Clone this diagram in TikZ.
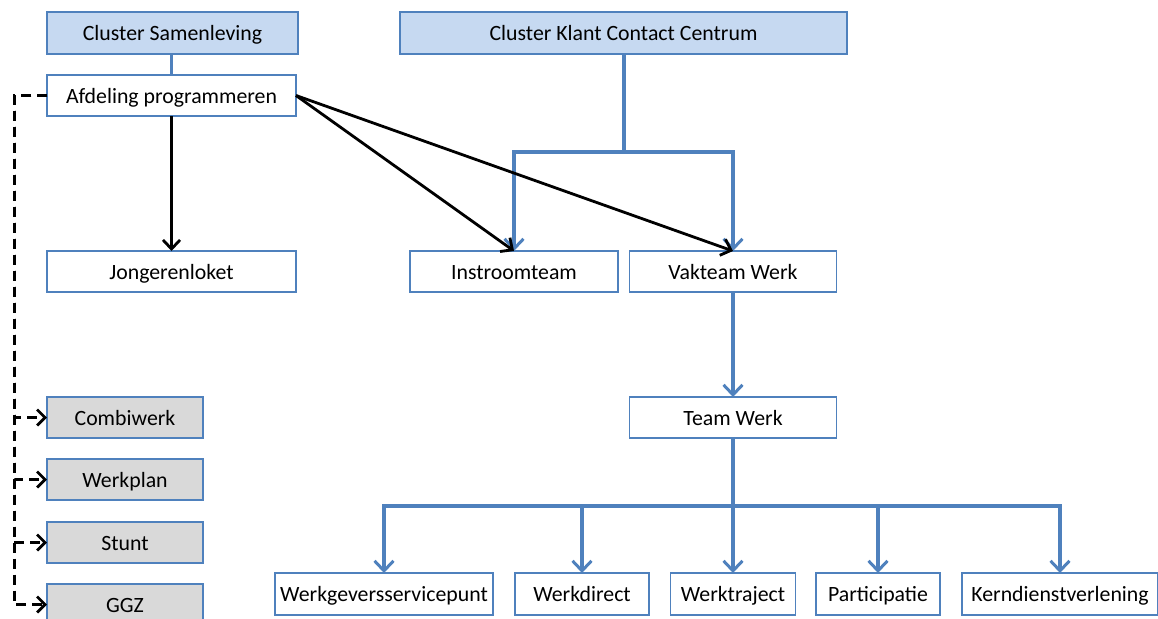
\documentclass[tikz,border=0pt]{standalone}
\usepackage{fontspec}
\setmainfont{Carlito}
\usetikzlibrary{arrows.meta}
\definecolor{bblue}{HTML}{4F81BD}
\definecolor{lblue}{HTML}{C6D9F1}
\definecolor{lgray}{HTML}{D9D9D9}
\tikzset{
  box/.style={draw=bblue, line width=1.8pt, fill=white, inner sep=0pt, outer sep=0pt,
    font=\fontsize{21.8}{26}\selectfont, text=black, text height=17.6pt, text depth=2pt},
  clusterbox/.style={box, fill=lblue},
  graybox/.style={box, fill=lgray},
  blueline/.style={draw=bblue, line width=3.2pt},
  bluearrow/.style={blueline, -{Straight Barb[length=10pt,width=19pt,line width=3pt]}},
  blackarrow/.style={draw=black, line width=2.8pt, -{Straight Barb[length=9pt,width=17pt,line width=2.8pt]}},
  dasharrow/.style={draw=black, line width=3pt, dash pattern=on 10pt off 6pt, -{Straight Barb[length=8pt,width=16pt,line width=2.8pt]}},
}
\begin{document}
\begin{tikzpicture}[x=1pt,y=-1pt]
\useasboundingbox (0,0) rectangle (1158,618);
% top clusters
\node[clusterbox, minimum width=251pt, minimum height=42pt] (cs) at (172.5,33) {Cluster Samenleving};
\node[box, minimum width=249pt, minimum height=41pt] (ap) at (171.5,95.5) {Afdeling programmeren};
\node[clusterbox, minimum width=447pt, minimum height=42pt] (kcc) at (623.5,33) {Cluster Klant Contact Centrum};
% second row
\node[box, minimum width=249pt, minimum height=41pt] (jl) at (171.5,271.5) {Jongerenloket};
\node[box, minimum width=208pt, minimum height=41pt] (it) at (514,271.5) {Instroomteam};
\node[box, minimum width=207pt, minimum height=41pt] (vw) at (733,271.5) {Vakteam Werk};
\node[box, minimum width=207pt, minimum height=41pt] (tw) at (733,417.5) {Team Werk};
% bottom row
\node[box, minimum width=218pt, minimum height=42pt] (wsp) at (384,594) {Werkgeversservicepunt};
\node[box, minimum width=134pt, minimum height=42pt] (wd) at (582,594) {Werkdirect};
\node[box, minimum width=125pt, minimum height=42pt] (wt) at (733,594) {Werktraject};
\node[box, minimum width=124pt, minimum height=42pt] (pa) at (878,594) {Participatie};
\node[box, minimum width=196pt, minimum height=42pt] (kd) at (1060,594) {Kerndienstverlening};
% gray boxes
\node[graybox, minimum width=156pt, minimum height=41pt] (cw) at (125,417.5) {Combiwerk};
\node[graybox, minimum width=156pt, minimum height=41pt] (wp) at (125,479.5) {Werkplan};
\node[graybox, minimum width=156pt, minimum height=41pt] (st) at (125,542.5) {Stunt};
\node[graybox, minimum width=156pt, minimum height=41pt] (gg) at (125,604.5) {GGZ};
% connectors
\draw[blueline] (ap.north) -- (ap.north |- cs.south);
\coordinate (kj) at (624,152);
\draw[blueline] (kj |- kcc.south) -- (kj);
\draw[bluearrow] (kj) -| (it.north);
\draw[bluearrow] (kj) -| (vw.north);
\draw[bluearrow] (vw.south) -- (tw.north);
\coordinate (bus) at (733,506);
\draw[blueline] (tw.south) -- (bus);
\foreach \n in {wsp,wd,wt,pa,kd}{
  \draw[bluearrow] (bus) -| (\n.north);
}
\draw[blackarrow] (ap.south) -- (jl.north);
\draw[blackarrow] (ap.east) -- (it.north);
\draw[blackarrow] (ap.east) -- (vw.north);
\coordinate (dl) at (14,95.5);
\foreach \n in {cw,wp,st,gg}{
  \draw[dasharrow] (ap.west) -- (dl) |- (\n.west);
}
\end{tikzpicture}
\end{document}
